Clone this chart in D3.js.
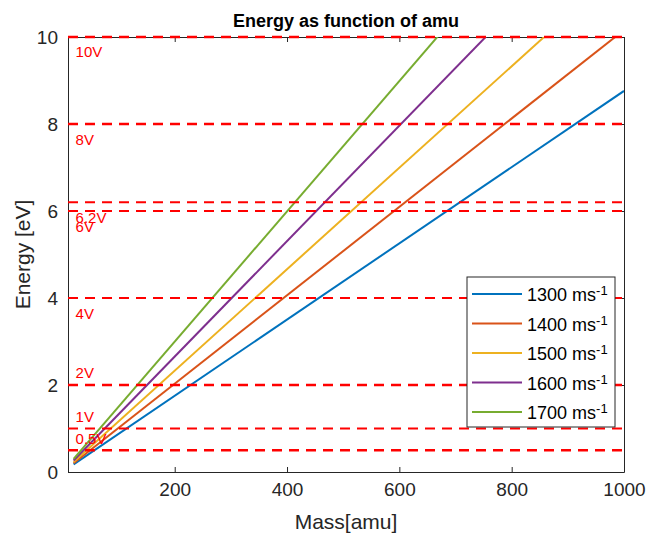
<!DOCTYPE html>
<html>
<head>
<meta charset="utf-8">
<style>
body { margin: 0; background: #fff; }
svg text { font-family: "Liberation Sans", Arial, sans-serif; }
.axis path, .axis line { stroke: #262626; }
.axis text { fill: #262626; font-size: 19px; }
</style>
</head>
<body>
<svg width="648" height="535"></svg>
<script src="https://d3js.org/d3.v7.min.js"></script>
<script>

// velocities (m/s) and the line end points
var speeds = [1300, 1400, 1500, 1600, 1700],
    massStart = 20,
    massEnd = 1000,
    energyStart = [0.175, 0.20, 0.23, 0.265, 0.30],
    energyEnd = [8.76, 10.16, 11.66, 13.27, 14.98];

// reference voltage lines and their labels
var refLevels = [10, 8, 6.2, 6, 4, 2, 1, 0.5],
    refLabels = ["10V", "8V", "6.2V", "6V", "4V", "2V", "1V", "0.5V"],
    refLabelY = [9.66, 7.63, 5.84, 5.64, 3.63, 2.28, 1.27, 0.77];

var xTicks = [200, 400, 600, 800, 1000],
    yTicks = [0, 2, 4, 6, 8, 10];

var colors = ["#0072BD", "#D95319", "#EDB120", "#7E2F8E", "#77AC30"];

var svg = d3.select("svg"),
    margin = {top: 37, right: 24, bottom: 63, left: 68},
    width = +svg.attr("width") - margin.left - margin.right,
    height = +svg.attr("height") - margin.top - margin.bottom;

var x = d3.scaleLinear().domain([10, 1000]).range([0, width]),
    y = d3.scaleLinear().domain([0, 10]).range([height, 0]);

var g = svg.append("g")
    .attr("transform", "translate(" + margin.left + "," + margin.top + ")");

g.append("clipPath").attr("id", "clip")
  .append("rect").attr("width", width).attr("height", height);

// axes, ticks point inward and repeat on top/right (box on)
g.append("g")
    .attr("class", "axis")
    .attr("transform", "translate(0," + height + ")")
    .call(d3.axisBottom(x).tickValues(xTicks).tickFormat(d3.format("d"))
      .tickSizeInner(-5).tickSizeOuter(0).tickPadding(11));

g.append("g")
    .attr("class", "axis")
    .call(d3.axisLeft(y).tickValues(yTicks).tickSizeInner(-5).tickSizeOuter(0).tickPadding(10));

g.append("g")
    .attr("class", "axis")
    .call(d3.axisTop(x).tickValues(xTicks).tickSizeInner(-5).tickSizeOuter(0).tickFormat(""));

g.append("g")
    .attr("class", "axis")
    .attr("transform", "translate(" + width + ",0)")
    .call(d3.axisRight(y).tickValues(yTicks).tickSizeInner(-5).tickSizeOuter(0).tickFormat(""));

var plot = g.append("g").attr("clip-path", "url(#clip)");

// energy lines
var line = d3.line()
    .x(function(d) { return x(d[0]); })
    .y(function(d) { return y(d[1]); });

speeds.forEach(function(v, i) {
  plot.append("path")
      .datum([[massStart, energyStart[i]], [massEnd, energyEnd[i]]])
      .attr("fill", "none")
      .attr("stroke", colors[i])
      .attr("stroke-width", 2)
      .attr("d", line);
});

// dashed reference lines
g.selectAll(".ref")
  .data(refLevels)
  .enter().append("line")
    .attr("class", "ref")
    .attr("x1", 0)
    .attr("x2", width)
    .attr("y1", function(d) { return y(d); })
    .attr("y2", function(d) { return y(d); })
    .attr("stroke", "#ff0000")
    .attr("stroke-width", function(d) { return (d == 10 || d == 8 || d == 2 || d == 0.5) ? 2.6 : 2; })
    .attr("stroke-dasharray", "10,7");

g.selectAll(".refLabel")
  .data(refLabels)
  .enter().append("text")
    .attr("class", "refLabel")
    .attr("x", x(massStart) + 2)
    .attr("y", function(d, i) { return y(refLabelY[i]); })
    .attr("dy", "0.35em")
    .attr("fill", "#ff0000")
    .style("font-size", "15px")
    .text(function(d) { return d; });

// title and axis labels
svg.append("text")
    .attr("x", margin.left + width / 2)
    .attr("y", 27)
    .attr("text-anchor", "middle")
    .style("font-size", "18px")
    .style("font-weight", "bold")
    .text("Energy as function of amu");

svg.append("text")
    .attr("x", margin.left + width / 2)
    .attr("y", 529)
    .attr("text-anchor", "middle")
    .attr("fill", "#262626")
    .style("font-size", "21px")
    .text("Mass[amu]");

svg.append("text")
    .attr("transform", "translate(30," + (margin.top + height / 2) + ") rotate(-90)")
    .attr("text-anchor", "middle")
    .attr("fill", "#262626")
    .style("font-size", "21px")
    .text("Energy [eV]");

// legend
var legend = svg.append("g").attr("transform", "translate(467,277)");

legend.append("rect")
    .attr("width", 148)
    .attr("height", 150)
    .attr("fill", "#fff")
    .attr("stroke", "#262626")
    .attr("stroke-width", 1);

speeds.forEach(function(v, i) {
  var row = legend.append("g").attr("transform", "translate(0," + (17 + i * 29.5) + ")");
  row.append("line")
      .attr("x1", 5).attr("x2", 55)
      .attr("stroke", colors[i])
      .attr("stroke-width", 2);
  var t = row.append("text")
      .attr("x", 60)
      .attr("dy", "0.4em")
      .attr("fill", "#000")
      .style("font-size", "18px");
  t.append("tspan").text(v + " ms");
  t.append("tspan").attr("dy", "-0.45em").style("font-size", "13px").text("-1");
});

</script>
</body>
</html>
